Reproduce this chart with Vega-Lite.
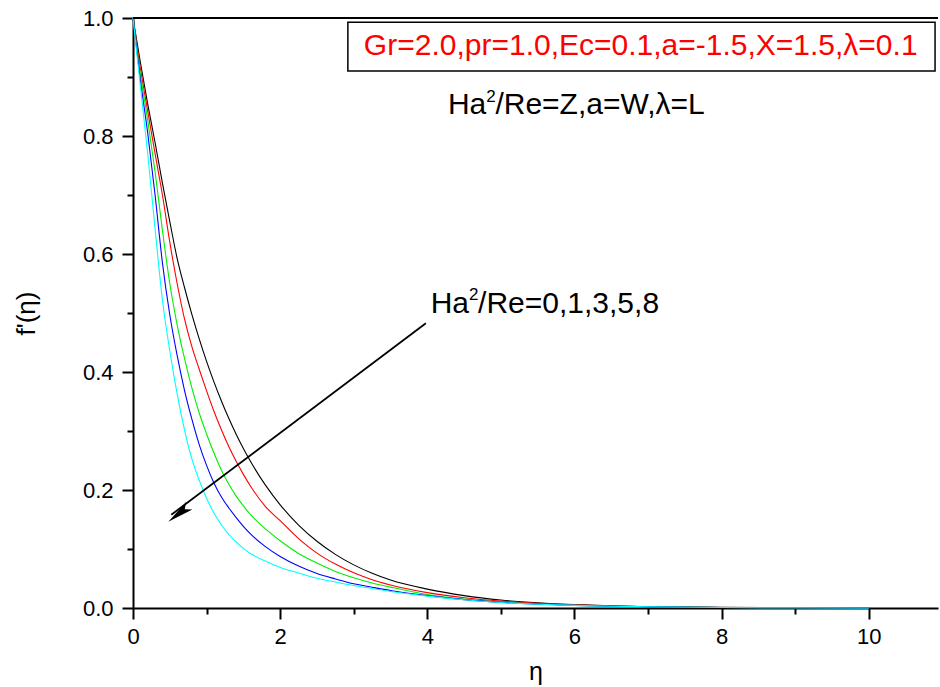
{
  "$schema": "https://vega.github.io/schema/vega-lite/v6.json",
  "autosize": "none",
  "width": 805,
  "height": 590,
  "padding": {"left": 133, "top": 18, "right": 2, "bottom": 79},
  "background": "white",
  "config": {"view": {"stroke": null}, "font": "Liberation Sans"},
  "layer": [
    {
      "data": {"values": [
        {"e":0,"f":1,"s":"0"},{"e":0.1,"f":0.925,"s":"0"},{"e":0.2,"f":0.854,"s":"0"},{"e":0.3,"f":0.789,"s":"0"},{"e":0.4,"f":0.72,"s":"0"},{"e":0.5,"f":0.655,"s":"0"},{"e":0.6,"f":0.5926,"s":"0"},{"e":0.7,"f":0.5432,"s":"0"},{"e":0.8,"f":0.4978,"s":"0"},{"e":0.9,"f":0.4562,"s":"0"},{"e":1.0,"f":0.4181,"s":"0"},{"e":1.1,"f":0.3832,"s":"0"},{"e":1.2,"f":0.3512,"s":"0"},{"e":1.3,"f":0.3219,"s":"0"},{"e":1.4,"f":0.295,"s":"0"},{"e":1.5,"f":0.2704,"s":"0"},{"e":1.6,"f":0.2478,"s":"0"},{"e":1.8,"f":0.2082,"s":"0"},{"e":2.0,"f":0.1749,"s":"0"},{"e":2.25,"f":0.1406,"s":"0"},{"e":2.5,"f":0.1131,"s":"0"},{"e":2.75,"f":0.0909,"s":"0"},{"e":3.0,"f":0.0731,"s":"0"},{"e":3.25,"f":0.0588,"s":"0"},{"e":3.5,"f":0.0473,"s":"0"},{"e":4.0,"f":0.032,"s":"0"},{"e":4.5,"f":0.021,"s":"0"},{"e":5,"f":0.0135,"s":"0"},{"e":5.5,"f":0.0088,"s":"0"},{"e":6,"f":0.0057,"s":"0"},{"e":6.5,"f":0.0037,"s":"0"},{"e":7,"f":0.0024,"s":"0"},{"e":8,"f":0.001,"s":"0"},{"e":9,"f":0.0004,"s":"0"},{"e":10,"f":0.0002,"s":"0"},
        {"e":0,"f":1,"s":"1"},{"e":0.1,"f":0.915,"s":"1"},{"e":0.2,"f":0.842,"s":"1"},{"e":0.3,"f":0.77,"s":"1"},{"e":0.4,"f":0.7,"s":"1"},{"e":0.5,"f":0.62,"s":"1"},{"e":0.6,"f":0.55,"s":"1"},{"e":0.7,"f":0.49,"s":"1"},{"e":0.8,"f":0.443,"s":"1"},{"e":0.9,"f":0.4046,"s":"1"},{"e":1.0,"f":0.368,"s":"1"},{"e":1.1,"f":0.3335,"s":"1"},{"e":1.2,"f":0.3024,"s":"1"},{"e":1.3,"f":0.274,"s":"1"},{"e":1.4,"f":0.249,"s":"1"},{"e":1.5,"f":0.2265,"s":"1"},{"e":1.6,"f":0.206,"s":"1"},{"e":1.8,"f":0.172,"s":"1"},{"e":2.0,"f":0.148,"s":"1"},{"e":2.25,"f":0.1176,"s":"1"},{"e":2.5,"f":0.093,"s":"1"},{"e":2.75,"f":0.0744,"s":"1"},{"e":3.0,"f":0.0596,"s":"1"},{"e":3.25,"f":0.048,"s":"1"},{"e":3.5,"f":0.039,"s":"1"},{"e":4.0,"f":0.026,"s":"1"},{"e":4.5,"f":0.0174,"s":"1"},{"e":5,"f":0.0117,"s":"1"},{"e":5.5,"f":0.0078,"s":"1"},{"e":6,"f":0.0054,"s":"1"},{"e":6.5,"f":0.0035,"s":"1"},{"e":7,"f":0.0023,"s":"1"},{"e":8,"f":0.0009,"s":"1"},{"e":9,"f":0.0004,"s":"1"},{"e":10,"f":0.0002,"s":"1"},
        {"e":0,"f":1,"s":"3"},{"e":0.1,"f":0.905,"s":"3"},{"e":0.2,"f":0.827,"s":"3"},{"e":0.3,"f":0.739,"s":"3"},{"e":0.4,"f":0.64,"s":"3"},{"e":0.5,"f":0.55,"s":"3"},{"e":0.6,"f":0.48,"s":"3"},{"e":0.7,"f":0.423,"s":"3"},{"e":0.8,"f":0.373,"s":"3"},{"e":0.9,"f":0.3305,"s":"3"},{"e":1.0,"f":0.295,"s":"3"},{"e":1.1,"f":0.2626,"s":"3"},{"e":1.2,"f":0.234,"s":"3"},{"e":1.3,"f":0.21,"s":"3"},{"e":1.4,"f":0.19,"s":"3"},{"e":1.5,"f":0.173,"s":"3"},{"e":1.6,"f":0.158,"s":"3"},{"e":1.8,"f":0.134,"s":"3"},{"e":2.0,"f":0.114,"s":"3"},{"e":2.25,"f":0.0925,"s":"3"},{"e":2.5,"f":0.0762,"s":"3"},{"e":2.75,"f":0.062,"s":"3"},{"e":3.0,"f":0.0513,"s":"3"},{"e":3.25,"f":0.0424,"s":"3"},{"e":3.5,"f":0.0354,"s":"3"},{"e":4.0,"f":0.0228,"s":"3"},{"e":4.5,"f":0.015,"s":"3"},{"e":5,"f":0.01,"s":"3"},{"e":5.5,"f":0.0068,"s":"3"},{"e":6,"f":0.0045,"s":"3"},{"e":6.5,"f":0.003,"s":"3"},{"e":7,"f":0.002,"s":"3"},{"e":8,"f":0.0008,"s":"3"},{"e":9,"f":0.0003,"s":"3"},{"e":10,"f":0.0001,"s":"3"},
        {"e":0,"f":1,"s":"5"},{"e":0.1,"f":0.895,"s":"5"},{"e":0.2,"f":0.805,"s":"5"},{"e":0.3,"f":0.7,"s":"5"},{"e":0.4,"f":0.585,"s":"5"},{"e":0.5,"f":0.497,"s":"5"},{"e":0.6,"f":0.428,"s":"5"},{"e":0.7,"f":0.369,"s":"5"},{"e":0.8,"f":0.32,"s":"5"},{"e":0.9,"f":0.277,"s":"5"},{"e":1.0,"f":0.2417,"s":"5"},{"e":1.1,"f":0.212,"s":"5"},{"e":1.2,"f":0.1886,"s":"5"},{"e":1.3,"f":0.17,"s":"5"},{"e":1.4,"f":0.1537,"s":"5"},{"e":1.5,"f":0.1385,"s":"5"},{"e":1.6,"f":0.1253,"s":"5"},{"e":1.8,"f":0.104,"s":"5"},{"e":2.0,"f":0.0872,"s":"5"},{"e":2.25,"f":0.071,"s":"5"},{"e":2.5,"f":0.0585,"s":"5"},{"e":2.75,"f":0.0493,"s":"5"},{"e":3.0,"f":0.041,"s":"5"},{"e":3.25,"f":0.0352,"s":"5"},{"e":3.5,"f":0.0297,"s":"5"},{"e":4.0,"f":0.021,"s":"5"},{"e":4.5,"f":0.0142,"s":"5"},{"e":5,"f":0.0096,"s":"5"},{"e":5.5,"f":0.0065,"s":"5"},{"e":6,"f":0.0045,"s":"5"},{"e":6.5,"f":0.003,"s":"5"},{"e":7,"f":0.002,"s":"5"},{"e":8,"f":0.0008,"s":"5"},{"e":9,"f":0.0003,"s":"5"},{"e":10,"f":0.0001,"s":"5"},
        {"e":0,"f":1,"s":"8"},{"e":0.1,"f":0.885,"s":"8"},{"e":0.2,"f":0.77,"s":"8"},{"e":0.3,"f":0.643,"s":"8"},{"e":0.4,"f":0.522,"s":"8"},{"e":0.5,"f":0.436,"s":"8"},{"e":0.6,"f":0.363,"s":"8"},{"e":0.7,"f":0.302,"s":"8"},{"e":0.8,"f":0.2526,"s":"8"},{"e":0.9,"f":0.2165,"s":"8"},{"e":1.0,"f":0.186,"s":"8"},{"e":1.1,"f":0.161,"s":"8"},{"e":1.2,"f":0.141,"s":"8"},{"e":1.3,"f":0.125,"s":"8"},{"e":1.4,"f":0.112,"s":"8"},{"e":1.5,"f":0.101,"s":"8"},{"e":1.6,"f":0.092,"s":"8"},{"e":1.8,"f":0.0795,"s":"8"},{"e":2.0,"f":0.0686,"s":"8"},{"e":2.25,"f":0.0594,"s":"8"},{"e":2.5,"f":0.0503,"s":"8"},{"e":2.75,"f":0.044,"s":"8"},{"e":3.0,"f":0.038,"s":"8"},{"e":3.25,"f":0.033,"s":"8"},{"e":3.5,"f":0.028,"s":"8"},{"e":4.0,"f":0.0202,"s":"8"},{"e":4.5,"f":0.0139,"s":"8"},{"e":5,"f":0.0094,"s":"8"},{"e":5.5,"f":0.0064,"s":"8"},{"e":6,"f":0.0044,"s":"8"},{"e":6.5,"f":0.003,"s":"8"},{"e":7,"f":0.002,"s":"8"},{"e":8,"f":0.0008,"s":"8"},{"e":9,"f":0.0003,"s":"8"},{"e":10,"f":0.0001,"s":"8"}
      ]},
      "mark": {"type": "line", "strokeWidth": 1.1, "interpolate": "monotone"},
      "encoding": {
        "x": {
          "field": "e", "type": "quantitative",
          "scale": {"domain": [0, 10.94], "nice": false, "zero": false},
          "axis": {
            "values": [0,1,2,3,4,5,6,7,8,9,10],
            "labelExpr": "datum.value % 2 === 0 ? format(datum.value, 'd') : ''",
            "tickSize": {"condition": {"test": "datum.value % 2 === 0", "value": 11}, "value": 6},
            "tickWidth": 2, "tickColor": "black",
            "domainWidth": 2, "domainColor": "black",
            "grid": false,
            "labelFont": "Liberation Sans", "labelFontSize": 22, "labelColor": "black",
            "labelPadding": 7, "labelFlush": false, "labelOverlap": false, "labelBound": false,
            "title": "η", "titleFont": "Liberation Sans", "titleFontSize": 25, "titleFontWeight": "normal", "titleColor": "black",
            "titlePadding": 12
          }
        },
        "y": {
          "field": "f", "type": "quantitative",
          "scale": {"domain": [0, 1], "nice": false, "zero": false},
          "axis": {
            "values": [0,0.1,0.2,0.3,0.4,0.5,0.6,0.7,0.8,0.9,1.0],
            "labelExpr": "round(datum.value*10) % 2 === 0 ? format(datum.value, '.1f') : ''",
            "tickSize": {"condition": {"test": "round(datum.value*10) % 2 === 0", "value": 11}, "value": 6},
            "tickWidth": 2, "tickColor": "black",
            "domainWidth": 2, "domainColor": "black",
            "grid": false,
            "labelFont": "Liberation Sans", "labelFontSize": 22, "labelColor": "black",
            "labelPadding": 9, "labelFlush": false, "labelOverlap": false, "labelBound": false,
            "title": "f'(η)", "titleFont": "Liberation Sans", "titleFontSize": 26, "titleFontWeight": "normal", "titleColor": "black",
            "titlePadding": 43
          }
        },
        "color": {
          "field": "s", "type": "nominal",
          "scale": {"domain": ["0","1","3","5","8"], "range": ["#000000","#ff0000","#00ee00","#0000ff","#00ffff"]},
          "legend": null
        }
      }
    },
    {
      "data": {"values": [{}]},
      "mark": {"type": "rule", "strokeWidth": 2, "color": "black"},
      "encoding": {"y": {"datum": 1}}
    },
    {
      "data": {"values": [{}]},
      "mark": {"type": "rect", "fill": "white", "stroke": "black", "strokeWidth": 1.5},
      "encoding": {"x": {"datum": 2.92}, "x2": {"datum": 10.9}, "y": {"datum": 0.993}, "y2": {"datum": 0.91}}
    },
    {
      "data": {"values": [{}]},
      "mark": {"type": "text", "font": "Liberation Sans", "fontSize": 30, "color": "#ff0000", "align": "center", "baseline": "alphabetic"},
      "encoding": {"x": {"datum": 6.9}, "y": {"datum": 0.937}, "text": {"value": "Gr=2.0,pr=1.0,Ec=0.1,a=-1.5,X=1.5,λ=0.1"}}
    },
    {
      "data": {"values": [{}]},
      "mark": {"type": "text", "font": "Liberation Sans", "fontSize": 30, "color": "black", "align": "left", "baseline": "alphabetic"},
      "encoding": {"x": {"datum": 4.28}, "y": {"datum": 0.838}, "text": {"value": "Ha"}}
    },
    {
      "data": {"values": [{}]},
      "mark": {"type": "text", "font": "Liberation Sans", "fontSize": 17, "color": "black", "align": "left", "baseline": "alphabetic"},
      "encoding": {"x": {"datum": 4.8}, "y": {"datum": 0.858}, "text": {"value": "2"}}
    },
    {
      "data": {"values": [{}]},
      "mark": {"type": "text", "font": "Liberation Sans", "fontSize": 30, "color": "black", "align": "left", "baseline": "alphabetic"},
      "encoding": {"x": {"datum": 4.925}, "y": {"datum": 0.838}, "text": {"value": "/Re=Z,a=W,λ=L"}}
    },
    {
      "data": {"values": [{}]},
      "mark": {"type": "text", "font": "Liberation Sans", "fontSize": 30, "color": "black", "align": "left", "baseline": "alphabetic"},
      "encoding": {"x": {"datum": 4.045}, "y": {"datum": 0.5}, "text": {"value": "Ha"}}
    },
    {
      "data": {"values": [{}]},
      "mark": {"type": "text", "font": "Liberation Sans", "fontSize": 17, "color": "black", "align": "left", "baseline": "alphabetic"},
      "encoding": {"x": {"datum": 4.565}, "y": {"datum": 0.522}, "text": {"value": "2"}}
    },
    {
      "data": {"values": [{}]},
      "mark": {"type": "text", "font": "Liberation Sans", "fontSize": 30, "color": "black", "align": "left", "baseline": "alphabetic"},
      "encoding": {"x": {"datum": 4.69}, "y": {"datum": 0.5}, "text": {"value": "/Re=0,1,3,5,8"}}
    },
    {
      "data": {"values": [{}]},
      "mark": {"type": "rule", "strokeWidth": 1.8, "color": "black"},
      "encoding": {"x": {"datum": 3.98}, "y": {"datum": 0.4825}, "x2": {"datum": 0.52}, "y2": {"datum": 0.158}}
    },
    {
      "data": {"values": [{}]},
      "mark": {"type": "point", "shape": "M0,0L0.3,1.6L0,1.25L-0.3,1.6Z", "filled": true, "color": "black", "opacity": 1, "size": 1100, "angle": 232.4, "strokeWidth": 0},
      "encoding": {"x": {"datum": 0.48}, "y": {"datum": 0.146}}
    }
  ]
}
